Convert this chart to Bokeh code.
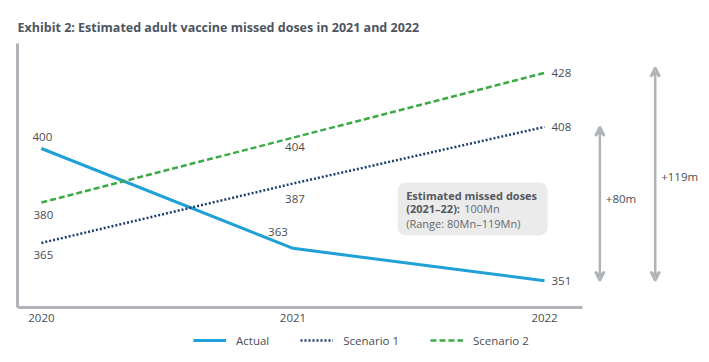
from bokeh.plotting import figure
from bokeh.models import (Range1d, FixedTicker, Legend, LegendItem, BoxAnnotation,
                          Arrow, VeeHead, Label, ColumnDataSource)
from bokeh.core.properties import value
from bokeh.embed import file_html
from bokeh.resources import INLINE

# ---- data ----
years = [2020, 2021, 2022]
year_labels = ["2020", "2021", "2022"]
actual = [400, 363, 351]
scenario1 = [365, 387, 408]
scenario2 = [380, 404, 428]
series_names = ["Actual", "Scenario 1", "Scenario 2"]
title_text = "Exhibit 2: Estimated adult vaccine missed doses in 2021 and 2022"
box_line1 = "Estimated missed doses"
box_line2a = "(2021\u201322):"
box_line2b = "100Mn"
box_line3 = "(Range: 80Mn\u2013119Mn)"
gap_low_label = "+80m"
gap_high_label = "+119m"

FONT = "Open Sans"
TXT = "#4a4d52"
GRAY = "#b0b3b7"
C_ACT = "#1fa0d6"
C_S1 = "#1c3f6e"
C_S2 = "#3caa47"

Y_BASE, Y_TOP = 341.1, 438.9

p = figure(width=700, height=355, output_backend="svg", toolbar_location=None,
           x_range=Range1d(2019.905, 2022.62), y_range=Range1d(323.3, Y_TOP),
           min_border_left=17, min_border_right=0, min_border_top=43, min_border_bottom=0)
p.outline_line_color = None
p.grid.visible = False
p.background_fill_color = "white"

p.title.text = title_text
p.title.text_font = FONT
p.title.text_font_size = "12.5px"
p.title.text_font_style = "bold"
p.title.text_color = "#4d5561"
p.title.align = "left"
p.title.standoff = 16

# axes
p.yaxis.ticker = FixedTicker(ticks=[])
p.yaxis.major_label_text_font_size = "0px"
p.yaxis.axis_line_color = GRAY
p.yaxis.axis_line_width = 3
p.yaxis.major_tick_line_color = None
p.yaxis.minor_tick_line_color = None
p.yaxis.bounds = (Y_BASE, Y_TOP)

p.xaxis.ticker = FixedTicker(ticks=years)
p.xaxis.major_label_overrides = {y: l for y, l in zip(years, year_labels)}
p.xaxis.bounds = (2019.905, 2022.151)
p.xaxis.fixed_location = Y_BASE
p.xaxis.axis_line_color = GRAY
p.xaxis.axis_line_width = 3
p.xaxis.major_tick_line_color = None
p.xaxis.minor_tick_line_color = None
p.xaxis.major_label_text_font = FONT
p.xaxis.major_label_text_font_size = "11.5px"
p.xaxis.major_label_text_color = TXT
p.xaxis.major_label_standoff = 1

# lines
r_act = p.line(years, actual, line_color=C_ACT, line_width=3)
r_s1 = p.line(years, scenario1, line_color=C_S1, line_width=2.5, line_dash="2 2")
r_s2 = p.line(years, scenario2, line_color=C_S2, line_width=2.5, line_dash="6 3")

# data labels
def labels(vals, offs, align):
    src = ColumnDataSource(dict(x=years[:len(vals)], y=vals, t=[str(v) for v in vals],
                                xo=[o[0] for o in offs], yo=[o[1] for o in offs]))
    p.text(x="x", y="y", text="t", x_offset="xo", y_offset="yo", text_align=align,
           text_baseline="middle", source=src, text_font=value(FONT),
           text_font_size="11.5px", text_color=TXT)

labels(actual[:2], [(1, -11), (-15, -16)], "center")
labels(scenario1[:2], [(2, 12), (2, 15)], "center")
labels(scenario2[:2], [(2, 13), (2, 9)], "center")
for v in (actual[-1], scenario1[-1], scenario2[-1]):
    p.add_layout(Label(x=years[-1], y=v, x_offset=7, text=str(v), text_font=FONT,
                       text_font_size="11.5px", text_color=TXT, text_baseline="middle"))

# annotation box
box = BoxAnnotation(left=2021.416, right=2022.012, top=387.4, bottom=367.8,
                    fill_color="#ebebeb", fill_alpha=1, line_color=None, border_radius=8)
p.add_layout(box)
bx = 2021.45
common = dict(text_font=FONT, text_font_size="11px", text_baseline="middle")
p.add_layout(Label(x=bx, y=382.6, text=box_line1, text_font_style="bold",
                   text_color="#55595f", **common))
p.add_layout(Label(x=bx, y=377.6, text=box_line2a, text_font_style="bold",
                   text_color="#55595f", **common))
p.add_layout(Label(x=bx, y=377.6, x_offset=58, text=box_line2b,
                   text_color="#66696e", **common))
p.add_layout(Label(x=bx, y=372.2, text=box_line3,
                   text_color="#66696e", **common))

# gap arrows
ax1, ax2 = 2022.22, 2022.44
for ax, top, lab, yo in [(ax1, scenario1[-1], gap_low_label, 5),
                         (ax2, scenario2[-1] + 2, gap_high_label, -2)]:
    p.add_layout(Arrow(x_start=ax, y_start=actual[-1], x_end=ax, y_end=top,
                       line_color=GRAY, line_width=2.5,
                       start=VeeHead(size=9, line_color=GRAY, line_width=2.5, fill_color=None),
                       end=VeeHead(size=9, line_color=GRAY, line_width=2.5, fill_color=None)))
    p.add_layout(Label(x=ax, y=(actual[-1] + top) / 2, x_offset=6, y_offset=yo, text=lab,
                       text_font=FONT, text_font_size="11.5px", text_color=TXT,
                       text_baseline="middle"))

legend = Legend(items=[LegendItem(label=series_names[0], renderers=[r_act]),
                       LegendItem(label=series_names[1], renderers=[r_s1]),
                       LegendItem(label=series_names[2], renderers=[r_s2])],
                orientation="horizontal", location=(176, 5),
                label_text_font=FONT, label_text_font_size="11.5px", label_text_color=TXT,
                glyph_width=33, label_standoff=10, spacing=31, border_line_color=None,
                padding=2, margin=0, background_fill_alpha=0)
p.add_layout(legend)

open("out.html", "w").write(file_html(p, INLINE))
